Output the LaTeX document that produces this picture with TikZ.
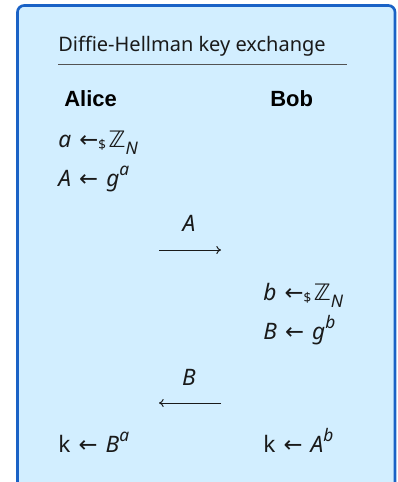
\documentclass[tikz,border=0pt]{standalone}
\usepackage{fontspec}
\setmainfont{Noto Sans}
\newfontfamily\dv{DejaVu Sans}
\newfontfamily\partyfont{Liberation Sans}
\definecolor{boxfill}{HTML}{D2EEFF}
\definecolor{boxline}{HTML}{1A62C6}
\definecolor{ink}{HTML}{1A1A1A}
\newcommand{\lar}{\hspace{0.1em}{\dv ←}\hspace{0.1em}}
\newcommand{\sampl}{\hspace{0.1em}{\dv ←}\raisebox{-0.12em}{\fontsize{10}{10}\selectfont\$}\hspace{0.12em}{\dv ℤ}\raisebox{-0.35em}{\fontsize{13}{13}\selectfont\textit{N}}}
\newcommand{\supx}[1]{\raisebox{0.45em}{\fontsize{13}{13}\selectfont\textit{#1}}}
\usetikzlibrary{arrows.meta}
\tikzset{
  lbl/.style={anchor=base west, inner sep=0pt, text=ink, font=\fontsize{17}{19}\selectfont},
  party/.style={anchor=base west, inner sep=0pt, text=black, font=\fontsize{16.5}{18}\selectfont\partyfont\bfseries},
  msg/.style={anchor=base, inner sep=0pt, text=ink, font=\fontsize{17}{19}\selectfont},
  flow/.style={draw=ink, line width=0.75pt, -{To[length=3.5pt,width=6pt]}},
}
\begin{document}
\begin{tikzpicture}[x=0.75pt,y=-0.75pt]
\useasboundingbox (0,0) rectangle (398,482);
\fill[boxfill, draw=boxline, line width=2pt, rounded corners=5pt] (17.5,5.5) rectangle (395,500);
\node[anchor=base west, inner sep=0pt, text=ink, font=\fontsize{15}{17}\selectfont] (title) at (58,51) {Diffie-Hellman key exchange};
\draw[ink!75, line width=0.6pt] (58,64) -- (347,64);
\node[party] (alice) at (64,106) {Alice};
\node[party] (bob) at (270,106) {Bob};
\node[lbl] (a1) at (58,147) {\textit{a} \sampl};
\node[lbl] (a2) at (58,186) {\textit{A} \lar{} \textit{g}\supx{a}};
\node[msg] (mA) at (189,231) {\textit{A}};
\coordinate (r1) at (159,250);
\coordinate (r2) at (221,250);
\draw[flow] (r1) -- (r2);
\node[lbl] (b1) at (263,300) {\textit{b} \sampl};
\node[lbl] (b2) at (263,339) {\textit{B} \lar{} \textit{g}\supx{b}};
\node[msg] (mB) at (189,385) {\textit{B}};
\coordinate (l1) at (221,403);
\coordinate (l2) at (159,403);
\draw[flow] (l1) -- (l2);
\node[lbl] (ka) at (58,452) {k \lar{} \textit{B}\supx{a}};
\node[lbl] (kb) at (263,452) {k \lar{} \textit{A}\supx{b}};
\end{tikzpicture}
\end{document}
